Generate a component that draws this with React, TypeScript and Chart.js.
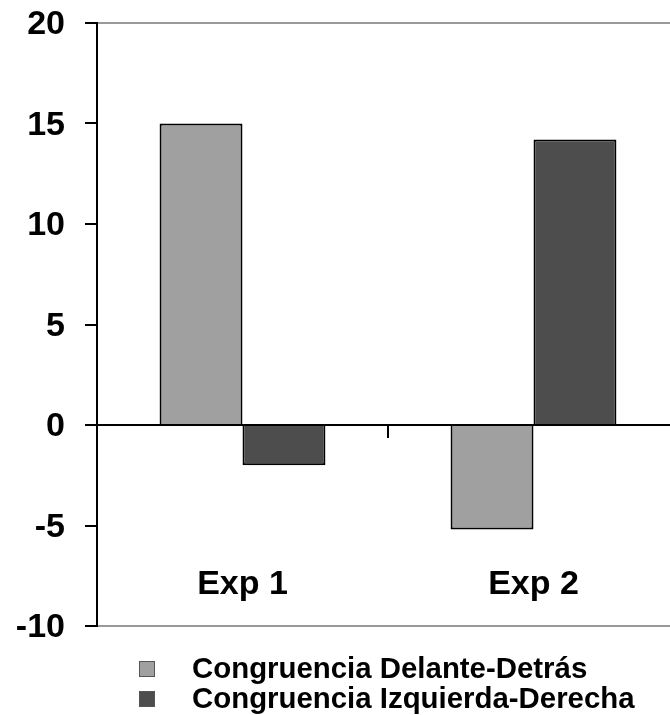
import React, { useEffect, useRef } from 'react';
import { Chart, registerables } from 'chart.js';

Chart.register(...registerables);

const categories = ['Exp 1', 'Exp 2'];
const seriesNames = ['Congruencia Delante-Detrás', 'Congruencia Izquierda-Derecha'];
const delanteDetras = [15.0, -5.2];
const izquierdaDerecha = [-2.0, 14.2];
const seriesColors = ['#a0a0a0', '#4d4d4d'];
const yMin = -10;
const yMax = 20;
const yStep = 5;

const FONT = "'Liberation Sans', Arial, sans-serif";

export default function App() {
  const ref = useRef<HTMLCanvasElement>(null);

  useEffect(() => {
    if (!ref.current) return;
    const chart = new Chart(ref.current, {
      type: 'bar',
      data: {
        labels: categories,
        datasets: [
          {
            label: seriesNames[0],
            data: delanteDetras,
            backgroundColor: seriesColors[0],
            borderColor: '#000',
            borderWidth: 2,
          },
          {
            label: seriesNames[1],
            data: izquierdaDerecha,
            backgroundColor: seriesColors[1],
            borderColor: '#000',
            borderWidth: 2,
          },
        ],
      },
      options: {
        responsive: false,
        animation: false,
        events: [],
        layout: { padding: { top: 23, bottom: 89, right: 21, left: 0 } },
        plugins: { legend: { display: false }, tooltip: { enabled: false } },
        datasets: { bar: { barPercentage: 1, categoryPercentage: 0.57 } },
        scales: {
          x: {
            type: 'category',
            position: { y: 0 } as any,
            offset: true,
            grid: {
              display: true,
              drawOnChartArea: false,
              offset: true,
              tickLength: 12,
              color: '#000',
              lineWidth: 2,
            },
            border: { display: true, color: '#000', width: 2 },
            ticks: {
              padding: 127,
              color: '#000',
              maxRotation: 0,
              font: { family: FONT, size: 34, weight: 'bold' },
            },
            afterFit: (scale: any) => {
              scale.paddingLeft = 0;
              scale.paddingRight = 0;
              scale.paddingTop = 0;
              scale.paddingBottom = 0;
            },
          },
          y: {
            min: yMin,
            max: yMax,
            ticks: {
              stepSize: yStep,
              padding: 20,
              labelOffset: 2,
              color: '#000',
              font: { family: FONT, size: 34, weight: 'bold' },
            },
            grid: {
              color: (ctx: any) => {
                const v = ctx.tick ? ctx.tick.value : null;
                if (v === 0) return '#000';
                if (v === yMax || v === yMin) return '#999';
                return 'rgba(0,0,0,0)';
              },
              lineWidth: 2,
              tickLength: 12,
              tickColor: '#000',
              tickWidth: 2,
            },
            border: { display: true, color: '#000', width: 2 },
            afterFit: (scale: any) => {
              scale.width = 97;
              scale.paddingTop = 0;
              scale.paddingBottom = 0;
            },
          },
        },
      },
    });
    return () => chart.destroy();
  }, []);

  const legendText: React.CSSProperties = {
    position: 'absolute',
    left: 192,
    fontFamily: FONT,
    fontWeight: 'bold',
    fontSize: 29.4,
    lineHeight: '29px',
    color: '#000',
    whiteSpace: 'nowrap',
  };
  const square = (color: string, top: number): React.CSSProperties => ({
    position: 'absolute',
    left: 139,
    top,
    width: 14,
    height: 14,
    background: color,
    border: '1px solid #555',
  });

  return (
    <div
      style={{
        position: 'fixed',
        left: 0,
        top: 0,
        width: 670,
        height: 715,
        overflow: 'hidden',
        background: '#fff',
      }}
    >
      <canvas ref={ref} width={700} height={715} style={{ display: 'block' }} />
      <div style={square(seriesColors[0], 661)} />
      <div style={{ ...legendText, top: 653 }}>{seriesNames[0]}</div>
      <div style={square(seriesColors[1], 691)} />
      <div style={{ ...legendText, top: 683 }}>{seriesNames[1]}</div>
    </div>
  );
}
